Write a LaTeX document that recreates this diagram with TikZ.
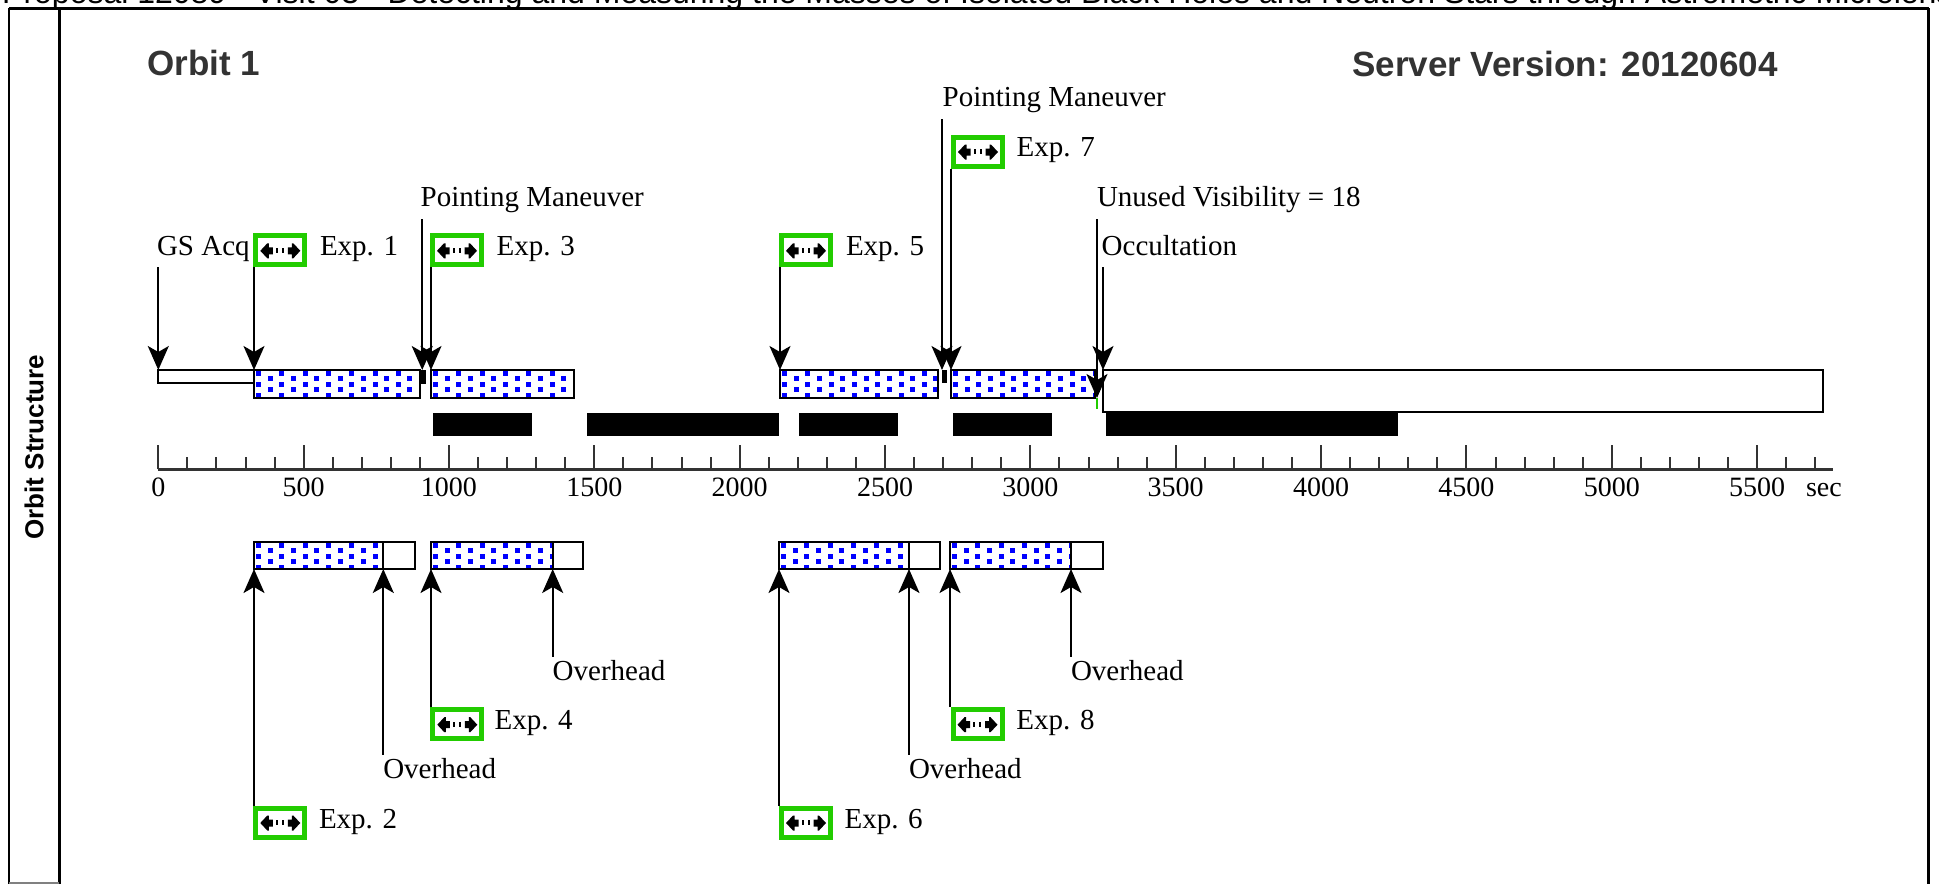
\documentclass[tikz,border=0pt]{standalone}
\usepackage{fontspec}
\setmainfont{Liberation Serif}
\newfontfamily\hsans{Liberation Sans}
\usetikzlibrary{arrows.meta}
\definecolor{expgreen}{RGB}{34,204,0}
\definecolor{dotblue}{RGB}{0,0,255}
\definecolor{axgray}{RGB}{51,51,51}
\tikzset{
  lbl/.style={anchor=base west, inner sep=0pt, outer sep=0pt, text depth=6.4pt, font=\fontsize{29}{30}\selectfont},
  axlbl/.style={anchor=base, inner sep=0pt, outer sep=0pt, font=\fontsize{28}{28}\selectfont},
  ttl/.style={anchor=base west, inner sep=0pt, text=axgray, font=\hsans\bfseries\fontsize{35}{36}\selectfont},
  arr/.style={line width=2pt, -{Stealth[length=24pt,width=21pt,inset=6pt]}},
  expbox/.style={draw=expgreen, line width=5pt, fill=white, minimum width=49pt, minimum height=29pt, inner sep=0pt, outer sep=2.5pt},
  wbar/.style={draw, line width=2pt, fill=white, inner sep=0pt, outer sep=0pt, anchor=north west},
  dbar/.style={wbar, path picture={
      \foreach \r in {0,...,6}{
        \foreach \c in {0,...,8}{
          \fill[dotblue] ([shift={({\c*23.3+mod(\r,2)*11.65+2}, {\r*5.6+0.5})}]path picture bounding box.north west) rectangle ++(5,5);
        }}
    }},
  blkbar/.style={fill=black, inner sep=0pt, outer sep=0pt, anchor=north west},
}
\newcommand\expicon[1]{%
  \begin{scope}[shift={(#1.center)}]
    \fill (-20,0.5) -- (-13,-7) -- (-11.5,-7) -- (-11.5,-3) -- (-7.5,-3) -- (-7.5,4) -- (-11.5,4) -- (-11.5,8) -- (-13,8) -- cycle;
    \fill (20,0.5) -- (13,-7) -- (11.5,-7) -- (11.5,-3) -- (7.5,-3) -- (7.5,4) -- (11.5,4) -- (11.5,8) -- (13,8) -- cycle;
    \fill (-4.5,-2.5) rectangle (-2.5,2.5);
    \fill (1.5,-2.5) rectangle (3.5,2.5);
  \end{scope}}
\begin{document}
\begin{tikzpicture}[x=1pt,y=-1pt]
\useasboundingbox (0,0) rectangle (1939,884);
\fill[white] (0,0) rectangle (1939,884);
% header (clipped by the page edge)
\begin{scope}
  \clip (0,0) rectangle (1939,884);
  \node[anchor=base west, inner sep=0pt, font=\hsans\fontsize{32}{32}\selectfont] (hdr) at (2,3.5)
    {Proposal 12089 - Visit 03 - Detecting and Measuring the Masses of Isolated Black Holes and Neutron Stars through Astrometric Microlensing};
\end{scope}
% frame
\draw[line width=2.5pt] (9,8.3) -- (1928.5,8.3);
\draw[line width=2pt] (9,8.3) -- (9,884);
\draw[line width=3pt] (59,8.3) -- (59,884);
\draw[line width=3pt] (1928.5,8.3) -- (1928.5,884);
\draw[gray, line width=2pt] (9,883) -- (59,883);
\node[rotate=90, inner sep=0pt, font=\hsans\bfseries\fontsize{26}{26}\selectfont] (ost) at (34,447) {Orbit Structure};
% titles
\node[ttl] (orbit) at (147,75) {Orbit 1};
\node[ttl] (srv) at (1352,76) {Server Version: 20120604};

% top bars
\node[wbar, minimum width=95.7pt, minimum height=13pt] (gsbar) at (158.3,370) {};
\node[dbar, minimum width=166pt, minimum height=28pt] (b1) at (254,370) {};
\node[dbar, minimum width=143pt, minimum height=28pt] (b3) at (431,370) {};
\node[dbar, minimum width=158pt, minimum height=28pt] (b5) at (780,370) {};
\node[dbar, minimum width=144pt, minimum height=28pt] (b7) at (951,370) {};
\node[wbar, minimum width=720.3pt, minimum height=42pt] (vis) at (1103,370) {};
\node[blkbar, minimum width=7.5pt, minimum height=13.5pt] (pm1blk) at (418.5,370) {};
\node[blkbar, minimum width=4.5pt, minimum height=13pt] (pm2blk) at (942,370) {};

% black bars
\node[blkbar, minimum width=98.4pt, minimum height=23pt] (k1) at (433.3,413) {};
\node[blkbar, minimum width=191.7pt, minimum height=23pt] (k2) at (587.3,413) {};
\node[blkbar, minimum width=98.4pt, minimum height=23pt] (k3) at (799.3,413) {};
\node[blkbar, minimum width=98.7pt, minimum height=23pt] (k4) at (953.3,413) {};
\node[blkbar, minimum width=291.3pt, minimum height=23pt] (k5) at (1106.3,413) {};

% axis
\coordinate (axs) at (158.3,469);
\coordinate (axe) at (1833.3,469);
\draw[axgray, line width=3pt] (axs) -- (axe);
\foreach \t in {100,200,300,400,600,700,800,900,1100,1200,1300,1400,1600,1700,1800,1900,2100,2200,2300,2400,2600,2700,2800,2900,3100,3200,3300,3400,3600,3700,3800,3900,4100,4200,4300,4400,4600,4700,4800,4900,5100,5200,5300,5400,5600,5700}
  \draw[axgray, line width=2pt] ({158.3+0.2907*\t},469) -- ++(0,-12);
\foreach \t in {0,500,...,5500}{
  \draw[axgray, line width=2pt] ({158.3+0.2907*\t},469) -- ++(0,-24);
  \node[axlbl] (t\t) at ({158.3+0.2907*\t},496) {\t};
}
\node[axlbl, anchor=base west] (sec) at (1806,496) {sec};

% top labels
\node[lbl] (gs) at (157,255) {GS Acq};
\node[lbl] (pm1) at (420.7,206.7) {Pointing Maneuver};
\node[lbl] (pm2) at (942.7,106.7) {Pointing Maneuver};
\node[lbl] (uv) at (1097,206.7) {Unused Visibility = 18};
\node[lbl] (oc) at (1101.7,255) {Occultation};

\node[expbox] (e1) at (280.3,250.3) {}; \expicon{e1}
\node[expbox] (e3) at (457,250.3) {}; \expicon{e3}
\node[expbox] (e5) at (806,250.3) {}; \expicon{e5}
\node[expbox] (e7) at (978,151.5) {}; \expicon{e7}
\node[lbl] (x1) at (320,255) {Exp. 1};
\node[lbl] (x3) at (496.7,255) {Exp. 3};
\node[lbl] (x5) at (846,255) {Exp. 5};
\node[lbl] (x7) at (1016.7,156.7) {Exp. 7};

% top arrows
\draw[arr, shorten <=6pt] (gs.south -| gsbar.north west) -- (gsbar.north west);
\draw[arr] (e1.south -| b1.north west) -- (b1.north west);
\draw[arr, shorten <=6pt] (pm1.south -| pm1blk.north) -- (pm1blk.north);
\draw[arr] (e3.south -| b3.north west) -- (b3.north west);
\draw[arr] (e5.south -| b5.north west) -- (b5.north west);
\draw[arr, shorten <=6pt] (pm2.south -| pm2blk.north west) -- (pm2blk.north west);
\draw[arr] (e7.south -| b7.north west) -- (b7.north west);
\coordinate (uvend) at (1097,398);
\draw[arr, shorten <=6pt] (uv.south -| uvend) -- (uvend);
\draw[expgreen, line width=2pt] (uvend) -- ++(0,11);
\draw[arr, shorten <=6pt] (oc.south -| vis.north west) -- (vis.north west);

% bottom bars
\node[dbar, minimum width=129.3pt, minimum height=27pt] (b2) at (254,542) {};
\node[wbar, minimum width=31.7pt, minimum height=27pt] (b2o) at (383.3,542) {};
\node[dbar, minimum width=121.7pt, minimum height=27pt] (b4) at (431,542) {};
\node[wbar, minimum width=30pt, minimum height=27pt] (b4o) at (552.7,542) {};
\node[dbar, minimum width=130pt, minimum height=27pt] (b6) at (779,542) {};
\node[wbar, minimum width=31pt, minimum height=27pt] (b6o) at (909,542) {};
\node[dbar, minimum width=121pt, minimum height=27pt] (b8) at (950,542) {};
\node[wbar, minimum width=32pt, minimum height=27pt] (b8o) at (1071,542) {};

% bottom labels
\node[lbl] (ov4) at (552.7,680) {Overhead};
\node[lbl] (ov2) at (383.3,778) {Overhead};
\node[lbl] (ov6) at (909,778) {Overhead};
\node[lbl] (ov8) at (1071,680) {Overhead};
\node[expbox] (e2) at (280.3,822.5) {}; \expicon{e2}
\node[expbox] (e4) at (457.3,724.2) {}; \expicon{e4}
\node[expbox] (e6) at (806,822.5) {}; \expicon{e6}
\node[expbox] (e8) at (977.5,724.2) {}; \expicon{e8}
\node[lbl] (x2) at (319,828) {Exp. 2};
\node[lbl] (x4) at (494.6,729) {Exp. 4};
\node[lbl] (x6) at (844.6,828) {Exp. 6};
\node[lbl] (x8) at (1016.4,729) {Exp. 8};

% bottom arrows
\draw[arr] (e2.north -| b2.south west) -- (b2.south west);
\draw[arr, shorten <=3pt] (ov2.north -| b2o.south west) -- (b2o.south west);
\draw[arr] (e4.north -| b4.south west) -- (b4.south west);
\draw[arr, shorten <=3pt] (ov4.north -| b4o.south west) -- (b4o.south west);
\draw[arr] (e6.north -| b6.south west) -- (b6.south west);
\draw[arr, shorten <=3pt] (ov6.north -| b6o.south west) -- (b6o.south west);
\draw[arr] (e8.north -| b8.south west) -- (b8.south west);
\draw[arr, shorten <=3pt] (ov8.north -| b8o.south west) -- (b8o.south west);
\end{tikzpicture}
\end{document}
